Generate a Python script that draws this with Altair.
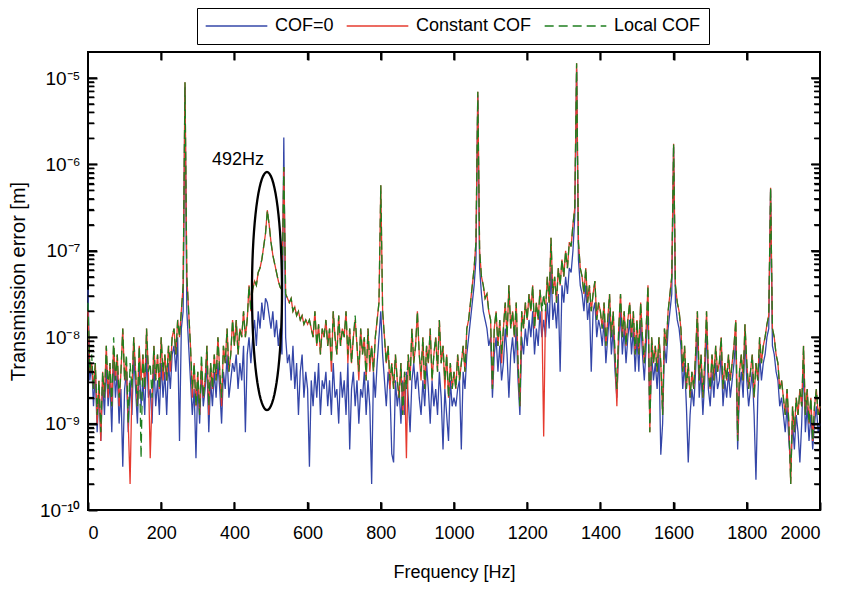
import altair as alt
import pandas as pd
import math

# frequency grid [Hz]
freq = list(range(0, 2001, 5))

# log10 of transmission error [m] (5 Hz steps)
cof0_log = [
    -7.45, -8.5, -8.3, -8.8, -8.4, -9.1, -8.6, -9.2, -8.5, -8.9,
    -8.3, -8.8, -8.5, -9.1, -8.2, -8.7, -8.4, -9.0, -8.6, -9.5,
    -8.6, -8.4, -9.1, -8.5, -8.9, -8.2, -8.6, -9.0, -8.3, -8.8,
    -8.5, -8.9, -8.2, -8.7, -8.6, -9.0, -8.3, -8.8, -8.5, -8.9,
    -8.3, -8.7, -8.4, -8.9, -8.3, -8.6, -8.2, -8.1, -8.4, -8.0,
    -9.2, -7.9, -7.7, -5.1, -7.7, -8.1, -8.5, -8.9, -8.6, -9.4,
    -8.5, -9.0, -8.4, -8.8, -8.6, -8.3, -9.1, -8.5, -8.8, -8.4,
    -8.7, -8.3, -8.6, -9.0, -8.4, -8.6, -8.2, -8.7, -8.5, -8.3,
    -8.4, -8.2, -8.6, -8.3, -8.5, -8.1, -9.1, -8.2, -8.0, -8.3,
    -8.0, -7.8, -8.1, -7.7, -7.9, -7.6, -7.8, -7.55, -7.6, -7.75,
    -7.9, -7.7, -8.0, -7.8, -8.1, -7.9, -8.2, -5.69, -8.0, -8.3,
    -8.2, -8.5, -8.1, -8.6, -8.3, -8.9, -8.4, -8.2, -8.7, -8.4,
    -8.6, -9.5, -8.5, -8.8, -8.4, -8.7, -8.3, -8.9, -8.5, -8.6,
    -8.4, -8.8, -8.5, -8.9, -8.3, -8.7, -8.6, -9.0, -8.4, -8.7,
    -8.5, -8.9, -8.3, -9.3, -8.6, -8.4, -8.8, -8.5, -9.0, -8.6,
    -8.7, -8.4, -8.9, -8.5, -8.8, -9.7, -8.4, -8.7, -8.3, -8.0,
    -7.7, -8.2, -8.5, -8.8, -8.4, -8.6, -9.35, -9.45, -8.5, -8.8,
    -8.6, -9.0, -8.5, -8.9, -8.4, -8.7, -9.1, -8.5, -8.3, -8.6,
    -8.4, -8.7, -8.9, -8.5, -8.8, -8.3, -8.6, -9.0, -8.5, -8.8,
    -8.6, -8.9, -8.4, -8.7, -9.3, -8.6, -8.9, -9.2, -8.5, -8.8,
    -8.7, -8.8, -8.6, -8.5, -9.3, -8.4, -8.6, -8.2, -8.0, -7.8,
    -7.6, -7.4, -7.1, -5.2, -7.2, -7.5, -7.7, -7.8, -7.9, -8.1,
    -8.0, -8.7, -8.2, -8.0, -8.4, -8.1, -8.5, -8.3, -7.9, -8.2,
    -8.7, -8.2, -8.0, -8.3, -7.9, -8.5, -8.9, -8.0, -8.2, -7.9,
    -8.1, -7.8, -8.0, -7.7, -8.2, -7.9, -8.1, -7.7, -8.0, -7.8,
    -8.0, -7.6, -7.9, -7.2, -7.8, -7.6, -7.9, -7.5, -8.4, -7.4,
    -7.6, -7.3, -7.5, -7.2, -7.25, -7.0, -6.6, -4.9, -7.1, -7.4,
    -7.5, -7.7, -7.4, -7.8, -7.6, -8.4, -7.7, -7.6, -8.0, -7.8,
    -7.9, -8.1, -7.8, -8.3, -8.0, -7.7, -8.2, -7.9, -8.4, -8.7,
    -8.1, -7.7, -8.2, -7.9, -8.3, -8.0, -7.8, -8.2, -7.9, -8.4,
    -8.0, -8.4, -7.8, -8.2, -8.5, -8.1, -7.6, -9.0, -8.2, -8.5,
    -8.3, -8.6, -8.2, -9.36, -9.0, -8.1, -8.3, -7.9, -7.7, -7.5,
    -5.8, -7.6, -7.8, -7.9, -8.1, -8.6, -8.3, -8.8, -9.45, -8.9,
    -8.6, -8.8, -8.4, -7.9, -8.7, -8.4, -8.9, -8.5, -7.9, -8.6,
    -8.8, -8.4, -8.7, -8.3, -8.6, -8.5, -8.2, -8.8, -8.5, -8.7,
    -8.4, -8.7, -8.5, -8.3, -8.0, -9.3, -8.6, -8.4, -8.7, -8.0,
    -8.5, -8.8, -8.6, -8.4, -8.9, -9.65, -8.7, -8.2, -8.5, -8.3,
    -8.2, -8.0, -7.9, -6.3, -8.1, -8.2, -8.4, -8.5, -8.8, -8.7,
    -8.9, -9.1, -8.8, -9.2, -9.5, -9.0, -9.3, -8.9, -9.1, -9.45,
    -9.0, -8.3, -9.1, -8.8, -9.2, -8.9, -9.3, -9.0, -8.8, -9.1,
    -9.0,
]

const_log = [
    -7.7, -8.4, -8.3, -8.6, -8.3, -9.0, -8.5, -9.2, -8.4, -8.7,
    -8.1, -8.7, -8.3, -8.8, -8.1, -8.5, -8.2, -8.8, -8.4, -7.9,
    -8.5, -8.3, -9.0, -9.7, -8.6, -8.0, -8.4, -8.8, -8.1, -8.5,
    -8.2, -8.6, -7.9, -8.4, -9.4, -8.7, -8.1, -8.5, -8.2, -8.6,
    -8.0, -8.5, -8.2, -8.5, -8.1, -8.4, -8.0, -7.9, -8.2, -7.8,
    -8.0, -7.7, -7.4, -5.05, -7.3, -7.7, -8.1, -8.7, -8.3, -8.8,
    -8.4, -8.9, -8.3, -8.7, -8.5, -8.1, -8.9, -8.3, -8.6, -8.2,
    -8.5, -8.0, -8.4, -8.8, -8.1, -8.3, -7.9, -8.4, -8.2, -7.8,
    -8.1, -7.8, -8.2, -7.9, -8.0, -7.7, -8.0, -7.8, -7.4, -7.7,
    -7.45, -7.35, -7.4, -7.25, -7.2, -7.1, -6.95, -6.8, -6.53, -6.7,
    -6.9, -7.05, -7.15, -7.25, -7.35, -7.42, -7.45, -6.03, -7.5, -7.55,
    -7.6, -7.55, -7.7, -7.65, -7.75, -7.7, -7.8, -7.75, -7.85, -7.8,
    -7.85, -7.8, -7.9, -8.0, -7.7, -8.1, -7.85, -8.2, -7.9, -8.0,
    -7.8, -8.1, -7.9, -8.4, -7.7, -8.0, -8.2, -7.75, -8.1, -7.9,
    -8.0, -7.7, -8.3, -7.9, -8.3, -8.0, -7.8, -8.1, -8.5, -7.9,
    -8.2, -8.0, -8.5, -7.9, -8.4, -8.1, -8.4, -8.0, -7.8, -7.6,
    -6.24, -7.7, -8.0, -8.3, -8.1, -8.6, -8.3, -8.6, -8.2, -8.5,
    -8.7, -8.3, -8.9, -8.4, -9.4, -8.2, -8.5, -7.9, -8.3, -8.1,
    -7.7, -8.2, -8.5, -8.0, -8.6, -8.1, -8.3, -7.9, -8.5, -8.2,
    -8.0, -8.4, -7.8, -8.3, -8.1, -8.6, -8.2, -8.7, -8.3, -8.6,
    -8.4, -8.6, -8.2, -8.5, -8.3, -8.1, -8.4, -7.9, -7.8, -7.6,
    -7.4, -7.2, -6.9, -5.16, -7.0, -7.3, -7.4, -7.55, -7.5, -7.7,
    -7.8, -8.6, -7.9, -7.7, -8.1, -7.8, -8.3, -7.9, -7.6, -8.0,
    -7.4, -7.9, -7.7, -8.0, -7.6, -8.3, -8.8, -7.7, -7.9, -7.6,
    -7.8, -7.5, -7.7, -7.4, -7.9, -7.6, -7.8, -7.45, -7.7, -9.15,
    -7.7, -7.3, -7.6, -6.85, -7.5, -7.3, -7.6, -7.2, -7.4, -7.1,
    -7.3, -7.0, -7.2, -6.9, -6.95, -6.7, -6.5, -4.83, -6.9, -7.2,
    -7.3, -7.5, -7.2, -7.6, -7.4, -7.7, -7.5, -7.35, -7.8, -7.6,
    -7.7, -7.9, -7.6, -8.1, -7.8, -7.5, -8.0, -7.7, -8.2, -8.8,
    -7.9, -7.5, -8.0, -7.7, -8.1, -7.8, -7.6, -8.0, -7.7, -8.2,
    -7.8, -8.2, -7.6, -8.0, -8.3, -7.9, -7.4, -9.1, -8.0, -8.3,
    -8.1, -8.4, -8.0, -8.3, -8.9, -7.9, -8.1, -7.7, -7.5, -7.3,
    -5.76, -7.4, -7.6, -7.7, -7.9, -8.4, -8.1, -8.6, -8.3, -8.7,
    -8.4, -8.6, -8.2, -7.7, -8.5, -8.2, -8.7, -8.3, -7.7, -8.4,
    -8.6, -8.2, -8.5, -8.1, -8.4, -8.3, -8.0, -8.6, -8.3, -8.5,
    -8.2, -8.5, -8.3, -8.1, -7.8, -9.2, -8.4, -8.2, -8.5, -7.85,
    -8.3, -8.6, -8.4, -8.2, -8.7, -8.3, -8.5, -8.0, -8.3, -8.1,
    -8.0, -7.85, -7.75, -6.27, -7.9, -8.0, -8.2, -8.3, -8.6, -8.5,
    -8.7, -8.9, -8.6, -9.0, -9.7, -8.8, -9.1, -8.7, -8.9, -8.6,
    -8.8, -8.1, -8.9, -8.6, -9.0, -8.7, -9.2, -8.8, -8.6, -8.9,
    -8.8,
]

local_log = [
    -7.6, -8.4, -8.2, -8.6, -8.3, -8.9, -8.5, -9.1, -8.4, -8.7,
    -8.1, -8.6, -8.3, -8.8, -8.0, -8.5, -8.2, -8.7, -8.4, -7.9,
    -8.5, -8.2, -9.0, -8.3, -8.6, -8.0, -8.4, -8.8, -8.1, -9.4,
    -8.2, -8.6, -7.9, -8.4, -8.3, -8.7, -8.1, -8.5, -8.2, -8.6,
    -8.0, -8.4, -8.2, -8.5, -8.1, -8.3, -8.0, -7.9, -8.2, -7.8,
    -8.0, -7.7, -7.4, -5.05, -7.3, -7.7, -8.1, -8.6, -8.3, -8.8,
    -8.4, -8.9, -8.2, -8.7, -8.5, -8.1, -8.8, -8.3, -8.6, -8.2,
    -8.5, -8.0, -8.4, -8.7, -8.1, -8.3, -7.9, -8.4, -8.2, -7.8,
    -8.1, -7.8, -8.2, -7.9, -8.0, -7.7, -8.0, -7.8, -7.4, -7.7,
    -7.45, -7.35, -7.4, -7.25, -7.2, -7.1, -6.95, -6.8, -6.53, -6.7,
    -6.9, -7.05, -7.15, -7.25, -7.35, -7.42, -7.45, -6.03, -7.5, -7.55,
    -7.6, -7.55, -7.7, -7.65, -7.75, -7.7, -7.8, -7.75, -7.85, -7.8,
    -7.85, -7.8, -7.9, -8.0, -7.7, -8.1, -7.85, -8.2, -7.9, -8.0,
    -7.8, -8.1, -7.9, -8.3, -7.7, -8.0, -8.2, -7.75, -8.1, -7.9,
    -8.0, -7.7, -8.2, -7.9, -8.3, -8.0, -7.75, -8.1, -8.4, -7.9,
    -8.2, -8.0, -8.5, -7.9, -8.3, -8.1, -8.4, -8.0, -7.8, -7.6,
    -6.24, -7.7, -8.0, -8.3, -8.1, -8.5, -8.3, -8.6, -8.2, -8.5,
    -8.7, -8.3, -8.9, -8.4, -8.6, -8.2, -8.5, -7.9, -8.3, -8.1,
    -7.7, -8.2, -8.4, -8.0, -8.6, -8.1, -8.3, -7.9, -8.5, -8.2,
    -8.0, -8.4, -7.8, -8.3, -8.1, -8.5, -8.2, -8.7, -8.3, -8.6,
    -8.4, -8.6, -8.2, -8.5, -8.3, -8.1, -8.4, -7.9, -7.8, -7.6,
    -7.4, -7.2, -6.9, -5.16, -7.0, -7.3, -7.4, -7.55, -7.5, -7.7,
    -7.8, -8.6, -7.9, -7.7, -8.1, -7.8, -8.2, -7.9, -7.6, -8.0,
    -7.4, -7.9, -7.7, -8.0, -7.6, -8.3, -8.8, -7.7, -7.9, -7.6,
    -7.8, -7.5, -7.7, -7.4, -7.9, -7.6, -7.8, -7.45, -7.7, -7.5,
    -7.7, -7.3, -7.6, -6.85, -7.5, -7.3, -7.6, -7.2, -7.4, -7.1,
    -7.3, -7.0, -7.2, -6.9, -6.95, -6.7, -6.5, -4.83, -6.9, -7.2,
    -7.3, -7.5, -7.2, -7.6, -7.4, -7.7, -7.5, -7.35, -7.8, -7.6,
    -7.7, -7.9, -7.6, -8.1, -7.8, -7.5, -8.0, -7.7, -8.2, -8.6,
    -7.9, -7.5, -8.0, -7.7, -8.1, -7.8, -7.6, -8.0, -7.7, -8.2,
    -7.8, -8.2, -7.6, -8.0, -8.3, -7.9, -7.4, -9.1, -8.0, -8.3,
    -8.1, -8.4, -8.0, -8.3, -8.9, -7.9, -8.1, -7.7, -7.5, -7.3,
    -5.76, -7.4, -7.6, -7.7, -7.9, -8.4, -8.1, -8.6, -8.3, -8.7,
    -8.4, -8.6, -8.2, -7.7, -8.5, -8.2, -8.7, -8.3, -7.7, -8.4,
    -8.6, -8.2, -8.5, -8.1, -8.4, -8.3, -8.0, -8.6, -8.3, -8.5,
    -8.2, -8.5, -8.3, -8.1, -7.8, -9.2, -8.4, -8.2, -8.5, -7.85,
    -8.3, -8.6, -8.4, -8.2, -8.7, -8.3, -8.5, -8.0, -8.3, -8.1,
    -8.0, -7.85, -7.75, -6.27, -7.9, -8.0, -8.2, -8.3, -8.6, -8.5,
    -8.7, -8.9, -8.6, -9.0, -9.7, -8.8, -9.1, -8.7, -8.9, -8.6,
    -8.8, -8.1, -8.9, -8.6, -9.0, -8.7, -9.2, -8.8, -8.6, -8.9,
    -8.8,
]

series_names = ["COF=0", "Constant COF", "Local COF"]
series_colors = ["#3446a8", "#e63a2e", "#1f7f1f"]
series_dashes = [[1, 0], [1, 0], [9, 5]]

x_ticks = [0, 200, 400, 600, 800, 1000, 1200, 1400, 1600, 1800, 2000]
y_decades = [1e-10, 1e-9, 1e-8, 1e-7, 1e-6, 1e-5]
y_min, y_max = 1e-10, 2e-5
x_min, x_max = 0, 2000

# annotation: ellipse around the 492 Hz peak and its label
ell_center_f, ell_half_f = 489, 41
ell_center_log, ell_half_log = -7.466, 1.378
note_text = "492Hz"
note_f, note_v = 410, 1.12e-6

W, H = 732, 458
FONT = "Liberation Sans"

rows = []
for name, logs in zip(series_names, [cof0_log, const_log, local_log]):
    for f, lv in zip(freq, logs):
        rows.append({"series": name, "f": f, "value": 10 ** lv})
df = pd.DataFrame(rows)

ell = pd.DataFrame([
    {"t": t,
     "f": ell_center_f + ell_half_f * math.cos(math.radians(t)),
     "value": 10 ** (ell_center_log + ell_half_log * math.sin(math.radians(t)))}
    for t in range(0, 361, 5)
])

minor_vals = [m * d for d in [1e-10, 1e-9, 1e-8, 1e-7, 1e-6, 1e-5] for m in range(2, 10)
              if m * d < y_max]
dummy = pd.DataFrame({"f": [1000], "value": [1e-8]})

# inward tick marks as thin filled rectangles (pixel sizes converted to data units)
decade_px = H / math.log10(y_max / y_min)
px_f = (x_max - x_min) / W


def ky(px):
    return 10 ** (px / decade_px)


rect_rows = []
for f in x_ticks[1:-1]:
    rect_rows.append({"f": f - 0.75 * px_f, "f2": f + 0.75 * px_f,
                      "value": y_min, "v2": y_min * ky(8)})
    rect_rows.append({"f": f - 0.75 * px_f, "f2": f + 0.75 * px_f,
                      "value": y_max / ky(8), "v2": y_max})
for v in y_decades[1:] + minor_vals:
    ln = 9 if v in y_decades else 6
    rect_rows.append({"f": x_min, "f2": x_min + ln * px_f,
                      "value": v / ky(0.7), "v2": v * ky(0.7)})
    rect_rows.append({"f": x_max - ln * px_f, "f2": x_max,
                      "value": v / ky(0.7), "v2": v * ky(0.7)})
rect_df = pd.DataFrame(rect_rows)

xscale = alt.Scale(domain=[x_min, x_max], nice=False, zero=False)
yscale = alt.Scale(type="log", domain=[y_min, y_max], nice=False)

label_expr = (
    "datum.value < 5e-10 ? '10⁻¹⁰' : datum.value < 5e-9 ? '10⁻⁹' : "
    "datum.value < 5e-8 ? '10⁻⁸' : datum.value < 5e-7 ? '10⁻⁷' : "
    "datum.value < 5e-6 ? '10⁻⁶' : '10⁻⁵'"
)

# axes: ticks point inward (axis shifted into the plot by the tick length)
x_main = alt.Axis(orient="bottom", offset=-8, values=x_ticks, format="d", zindex=1,
                  ticks=True, tickSize=8, tickWidth=2, tickColor="black",
                  domain=False, grid=False,
                  labelFontSize=18, labelFont=FONT, labelColor="black", labelPadding=14,
                  title="Frequency [Hz]", titleFontSize=18, titleFont=FONT,
                  titleFontWeight="normal", titleColor="black", titlePadding=21)
y_main = alt.Axis(orient="left", offset=-9, values=y_decades, labelExpr=label_expr, zindex=1,
                  ticks=True, tickSize=9, tickWidth=2, tickColor="black",
                  domain=False, grid=False,
                  labelFontSize=19, labelFont=FONT, labelColor="black", labelPadding=8,
                  title="Transmission error [m]", titleFontSize=20, titleFont=FONT,
                  titleFontWeight="normal", titleColor="black", titlePadding=11)
x_top = alt.Axis(orient="top", offset=-8, values=x_ticks[1:-1], ticks=True, tickSize=8,
                 zindex=1, tickWidth=2, tickColor="black", domain=False, grid=False,
                 labels=False, title="")
y_right = alt.Axis(orient="right", offset=-9, values=y_decades[1:], ticks=True, tickSize=9,
                   zindex=1, tickWidth=2, tickColor="black", domain=False, grid=False,
                   labels=False, title="")
y_left_minor = alt.Axis(orient="left", offset=-6, values=minor_vals, ticks=True, tickSize=6,
                        zindex=1, tickWidth=1.5, tickColor="black", domain=False, grid=False,
                        labels=False, title="")
y_right_minor = alt.Axis(orient="right", offset=-6, values=minor_vals, ticks=True, tickSize=6,
                         zindex=1, tickWidth=1.5, tickColor="black", domain=False, grid=False,
                         labels=False, title="")


def X(axis=None):
    if axis is None:
        return alt.X("f:Q", scale=xscale, axis=None)
    return alt.X("f:Q", scale=xscale, axis=axis)


def Y(axis=None):
    if axis is None:
        return alt.Y("value:Q", scale=yscale, axis=None)
    return alt.Y("value:Q", scale=yscale, axis=axis)


legend = alt.Legend(title=None, orient="none", legendX=109, legendY=-44,
                    direction="horizontal", strokeColor="black", fillColor="white",
                    padding=8, symbolType="stroke", symbolSize=3800, symbolStrokeWidth=1.3,
                    clipHeight=20, labelFontSize=18, labelFont=FONT, labelColor="black",
                    columnPadding=12, labelOffset=7, labelLimit=0, cornerRadius=0)

color = alt.Color("series:N", scale=alt.Scale(domain=series_names, range=series_colors), legend=legend)
dash = alt.StrokeDash("series:N", scale=alt.Scale(domain=series_names, range=series_dashes), legend=legend)

base = alt.Chart(df)
lines = []
for i, name in enumerate(series_names):
    xa = X(x_main) if i == 0 else X()
    ya = Y(y_main) if i == 0 else Y()
    lines.append(
        base.transform_filter(alt.datum.series == name)
            .mark_line(strokeWidth=1.3)
            .encode(x=xa, y=ya, color=color, strokeDash=dash)
    )

ellipse = alt.Chart(ell).mark_line(color="black", strokeWidth=2.3).encode(
    x=X(), y=Y(), order="t:Q")
note = alt.Chart(pd.DataFrame({"f": [note_f], "value": [note_v], "txt": [note_text]})).mark_text(
    fontSize=18, font=FONT, color="black", align="center", baseline="middle").encode(
    x=X(), y=Y(), text="txt:N")

tick_rects = alt.Chart(rect_df).mark_rect(color="black", opacity=1).encode(
    x=X(), x2="f2:Q", y=Y(), y2="v2:Q")

# invisible carriers for the extra tick-only axes
ax1 = alt.Chart(dummy).mark_point(opacity=0).encode(x=X(x_top), y=Y(y_right))
ax2 = alt.Chart(dummy).mark_point(opacity=0).encode(x=X(), y=Y(y_left_minor))
ax3 = alt.Chart(dummy).mark_point(opacity=0).encode(x=X(), y=Y(y_right_minor))

chart = alt.layer(
    *lines, ellipse, note, tick_rects, ax1, ax2, ax3
).resolve_axis(
    x="independent", y="independent"
).properties(
    width=W, height=H,
    autosize=alt.AutoSizeParams(type="none"),
    padding={"left": 80, "top": 44, "right": 15, "bottom": 73},
).configure(
    font=FONT, background="white"
).configure_view(
    stroke="black", strokeWidth=2
)

chart.save("out.html", embed_options={"renderer": "svg", "actions": False})
